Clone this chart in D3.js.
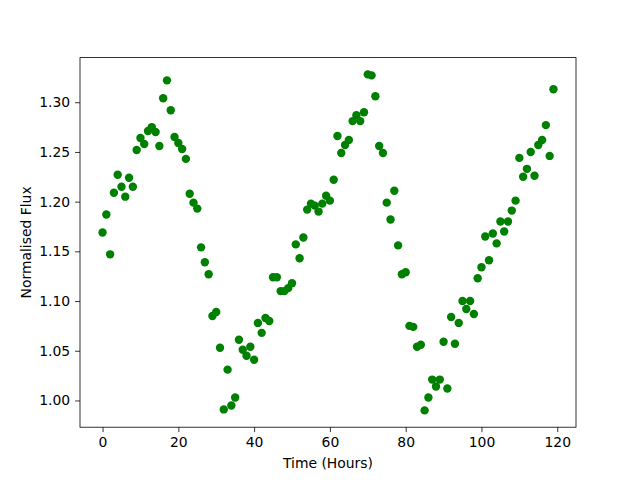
<!DOCTYPE html>
<html>
<head>
<meta charset="utf-8">
<script src="https://cdn.jsdelivr.net/npm/d3@7"></script>
<style>
  body { margin: 0; background: #fff; }
  text { font-family: "DejaVu Sans", sans-serif; }
</style>
</head>
<body>
<div id="chart"></div>
<script>
// hourly normalised flux readings
const hours = d3.range(0, 120);
const flux = [
  1.169, 1.187, 1.147, 1.209, 1.227, 1.215, 1.205, 1.224, 1.215, 1.252,
  1.264, 1.258, 1.271, 1.275, 1.270, 1.256, 1.304, 1.322, 1.292, 1.265,
  1.259, 1.253, 1.243, 1.208, 1.199, 1.193, 1.154, 1.139, 1.127, 1.085,
  1.089, 1.053, 0.991, 1.031, 0.995, 1.003, 1.061, 1.051, 1.045, 1.054,
  1.041, 1.078, 1.068, 1.083, 1.080, 1.124, 1.124, 1.110, 1.110, 1.113,
  1.118, 1.157, 1.143, 1.164, 1.192, 1.198, 1.196, 1.190, 1.198, 1.206,
  1.201, 1.222, 1.266, 1.249, 1.257, 1.262, 1.281, 1.287, 1.281, 1.290,
  1.328, 1.327, 1.306, 1.256, 1.249, 1.199, 1.182, 1.211, 1.156, 1.127,
  1.129, 1.075, 1.074, 1.054, 1.056, 0.990, 1.003, 1.021, 1.014, 1.021,
  1.059, 1.012, 1.084, 1.057, 1.078, 1.100, 1.092, 1.100, 1.087, 1.123,
  1.134, 1.165, 1.141, 1.168, 1.158, 1.180, 1.170, 1.180, 1.191, 1.201,
  1.244, 1.225, 1.233, 1.250, 1.226, 1.257, 1.262, 1.277, 1.246, 1.313
];
const xTicks = [0, 20, 40, 60, 80, 100, 120];
const yTicks = [1.00, 1.05, 1.10, 1.15, 1.20, 1.25, 1.30];

const width = 640, height = 480;
const margin = { top: 57.6, right: 64, bottom: 52.8, left: 80 };
const innerW = width - margin.left - margin.right;
const innerH = height - margin.top - margin.bottom;

const svg = d3.select('#chart').append('svg')
  .attr('width', width)
  .attr('height', height);

const g = svg.append('g')
  .attr('transform', `translate(${margin.left}, ${margin.top})`);

// matplotlib style 5% padding around the data
const xExt = d3.extent(hours), yExt = d3.extent(flux);
const xPad = (xExt[1] - xExt[0]) * 0.05, yPad = (yExt[1] - yExt[0]) * 0.05;
const x = d3.scaleLinear().domain([xExt[0] - xPad, xExt[1] + xPad]).range([0, innerW]);
const y = d3.scaleLinear().domain([yExt[0] - yPad, yExt[1] + yPad]).range([innerH, 0]);

const points = hours.map((h, i) => ({ h: h, v: flux[i] }));

g.selectAll('.dot')
  .data(points)
  .enter().append('circle')
  .attr('class', 'dot')
  .attr('cx', d => x(d.h))
  .attr('cy', d => y(d.v))
  .attr('r', 4.2)
  .attr('fill', '#008000');

const xAxis = g.append('g')
  .attr('transform', `translate(0, ${innerH})`)
  .call(d3.axisBottom(x).tickValues(xTicks).tickFormat(d3.format('d')).tickSize(4.9).tickPadding(4.9));
const yAxis = g.append('g')
  .call(d3.axisLeft(y).tickValues(yTicks).tickFormat(d3.format('.2f')).tickSize(4.9).tickPadding(4.9));

[xAxis, yAxis].forEach(ax => {
  ax.select('.domain').remove();
  ax.selectAll('line').attr('stroke', '#000').attr('stroke-width', 0.8);
  ax.selectAll('text')
    .attr('font-size', '13.9px')
    .attr('font-family', '"DejaVu Sans", sans-serif')
    .attr('fill', '#000');
});

// frame
g.append('rect')
  .attr('width', innerW)
  .attr('height', innerH)
  .attr('fill', 'none')
  .attr('stroke', '#000')
  .attr('stroke-width', 0.8);

svg.append('text')
  .attr('x', margin.left + innerW / 2)
  .attr('y', 468)
  .attr('text-anchor', 'middle')
  .attr('font-size', '13.9px')
  .text('Time (Hours)');

svg.append('text')
  .attr('transform', `translate(31, ${margin.top + innerH / 2}) rotate(-90)`)
  .attr('text-anchor', 'middle')
  .attr('font-size', '13.9px')
  .text('Normalised Flux');
</script>
</body>
</html>
